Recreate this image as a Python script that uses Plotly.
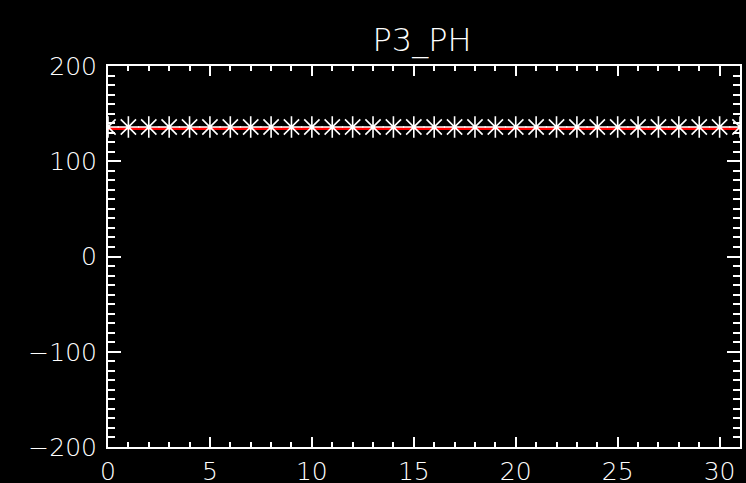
import plotly.graph_objects as go

title = "P3_PH"
x_vals = list(range(32))
y_vals = [136] * 32
mean_vals = [134.5] * 32
x_range = [0, 31]
y_range = [-200, 200]

fig = go.Figure()
fig.add_trace(go.Scatter(x=x_vals, y=mean_vals, mode="lines",
                         line=dict(color="#ff0000", width=3), showlegend=False))
fig.add_trace(go.Scatter(x=x_vals, y=y_vals, mode="markers",
                         marker=dict(symbol="asterisk-open", size=18, color="white",
                                     line=dict(color="white", width=1.6)),
                         showlegend=False))

font = dict(family="DejaVu Sans", size=25, color="white", weight=200)
fig.update_layout(
    width=746, height=483,
    paper_bgcolor="black", plot_bgcolor="black",
    margin=dict(l=108, r=6, t=66, b=36),
    title=dict(text=title, x=422 / 746, xanchor="center",
               y=1 - 40 / 483, yanchor="middle", yref="container",
               font=dict(family="DejaVu Sans", size=32, color="white", weight=200)),
    font=font,
)
fig.update_xaxes(range=x_range, dtick=5, tick0=0, showgrid=False, zeroline=False,
                 showline=True, linecolor="white", linewidth=2, mirror="allticks",
                 ticks="inside", ticklen=10, tickwidth=1.5, tickcolor="white",
                 minor=dict(dtick=1, ticks="inside", ticklen=5, tickcolor="white", tickwidth=1.5, showgrid=False),
                 tickfont=font, ticklabelstandoff=1, automargin=False)
fig.update_yaxes(range=y_range, dtick=100, tick0=0, showgrid=False, zeroline=False,
                 showline=True, linecolor="white", linewidth=2, mirror="allticks",
                 ticks="inside", ticklen=13, tickwidth=1.5, tickcolor="white",
                 minor=dict(dtick=10, ticks="inside", ticklen=7, tickcolor="white", tickwidth=1.5, showgrid=False),
                 tickfont=font, ticklabelstandoff=4, automargin=False)

fig.write_html("out.html", config={"displayModeBar": False},
               post_script="document.body.style.margin='0';")
